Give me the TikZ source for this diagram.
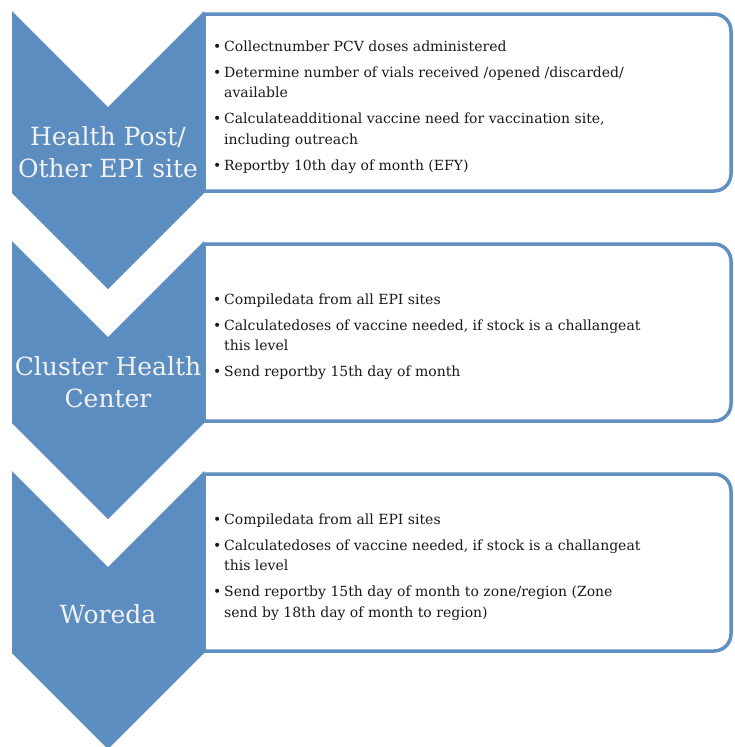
\documentclass[tikz,border=0pt]{standalone}
\usepackage{fontspec}
\setmainfont{DejaVu Serif}
\definecolor{chev}{RGB}{92,141,192}
\definecolor{boxline}{RGB}{96,143,193}
\definecolor{labtxt}{RGB}{242,242,242}
\definecolor{bodytxt}{RGB}{25,25,25}
\newcommand{\bl}{\makebox[11pt][l]{\textbullet}}
\newcommand{\ind}{\hspace*{11pt}}
\tikzset{
  chevshape/.style={fill=chev, draw=none},
  infobox/.style={draw=boxline, line width=3.5pt, fill=white},
  chevlabel/.style={text=labtxt, align=center, inner sep=0pt,
    font=\fontsize{25}{32}\selectfont},
  bullets/.style={text=bodytxt, inner sep=0pt, anchor=base west,
    font=\fontsize{14}{20.5}\selectfont}
}
\begin{document}
\begin{tikzpicture}[x=1pt,y=-1pt]
\useasboundingbox[fill=white] (0,0) rectangle (734,747);
% info boxes (behind chevrons)
\foreach \t/\b in {14/191, 244/421, 474/651}{
  \draw[infobox] (204,\t) -- (714,\t) arc[start angle=90,end angle=0,radius=17pt]
     -- (731,\b-17) arc[start angle=0,end angle=-90,radius=17pt] -- (204,\b) -- cycle;
}
% chevrons
\foreach \y in {11, 241, 471}{
  \fill[chevshape] (12,\y) -- (108,\y+96) -- (204,\y) -- (204,\y+182)
     -- (108,\y+278) -- (12,\y+182) -- cycle;
}
% chevron labels
\node[chevlabel] (l1) at (108,152) {Health Post/\\Other EPI site};
\node[chevlabel] (l2) at (108,382) {Cluster Health\\Center};
\node[chevlabel] (l3) at (108,614) {Woreda};
% bullet texts
\node[bullets] (t1) at (213,51) {\parbox[t]{500pt}{%
\bl Collectnumber PCV doses administered\\[5.5pt]
\bl Determine number of vials received /opened /discarded/\\
\ind available\\[5.5pt]
\bl Calculateadditional vaccine need for vaccination site,\\
\ind including outreach\\[5.5pt]
\bl Reportby 10th day of month (EFY)}};
\node[bullets] (t2) at (213,304) {\parbox[t]{500pt}{%
\bl Compiledata from all EPI sites\\[5.5pt]
\bl Calculatedoses of vaccine needed, if stock is a challangeat\\
\ind this level\\[5.5pt]
\bl Send reportby 15th day of month}};
\node[bullets] (t3) at (213,524) {\parbox[t]{500pt}{%
\bl Compiledata from all EPI sites\\[5.5pt]
\bl Calculatedoses of vaccine needed, if stock is a challangeat\\
\ind this level\\[5.5pt]
\bl Send reportby 15th day of month to zone/region (Zone\\
\ind send by 18th day of month to region)}};
\end{tikzpicture}
\end{document}
